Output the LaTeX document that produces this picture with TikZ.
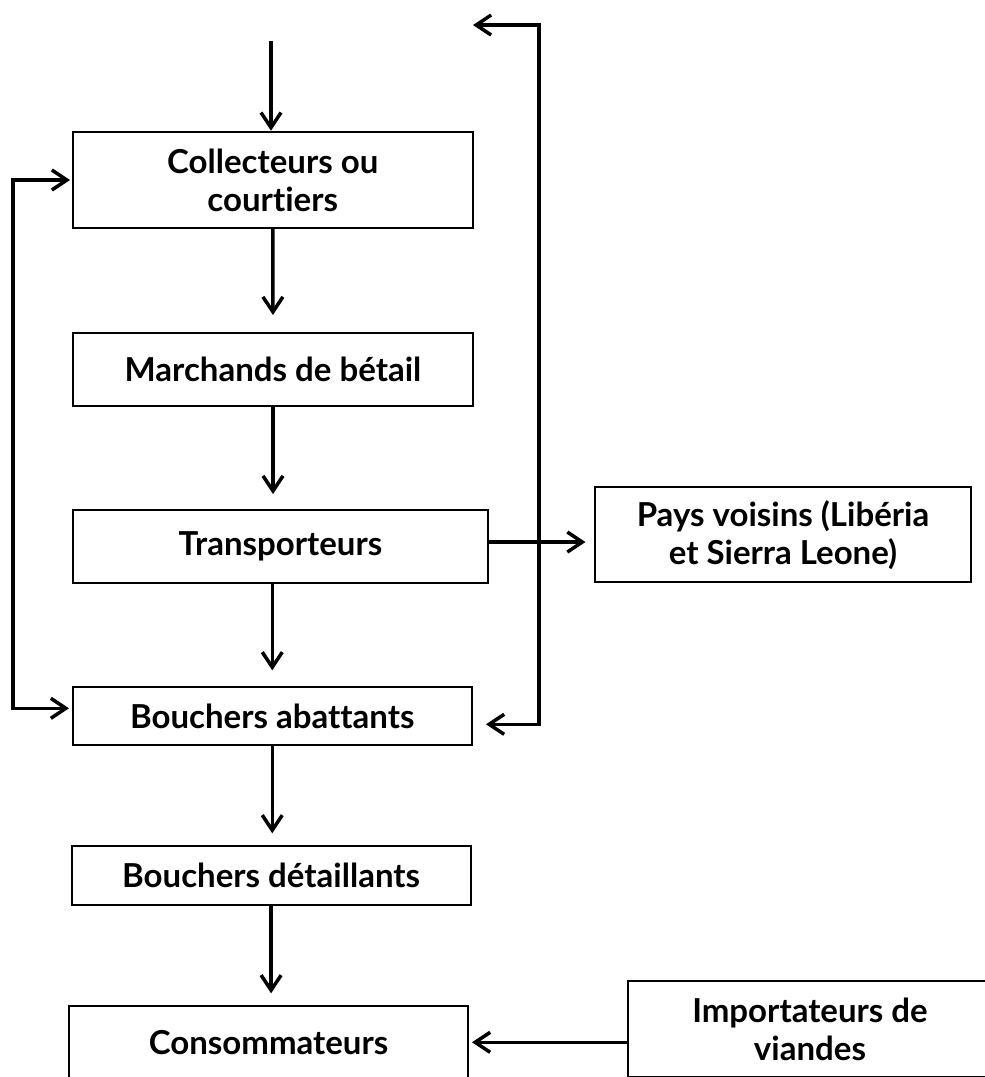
\documentclass[tikz,border=0pt]{standalone}
\usepackage{fontspec}
\setmainfont{Lato}[Ligatures=NoCommon]
\usetikzlibrary{positioning,arrows.meta}

\begin{document}
\begin{tikzpicture}[x=1pt, y=-1pt, node distance=104pt,
                    main node/.style={rectangle,draw,line width=2pt,align=center,inner sep=0pt,outer sep=0pt,
                                      font=\fontsize{33}{38}\selectfont\bfseries},
                    arr/.style={-{Straight Barb[length=15pt,width=20pt]},line width=3.5pt}]

  \clip (0,0) rectangle (985,1077);

  \node[main node,minimum width=399.5pt,minimum height=96pt] (coll) at (272.75,180) {Collecteurs ou\\courtiers};
  \node[main node,minimum width=400pt,minimum height=73pt] (march) [below=105pt of coll.south west,anchor=north west] {Marchands de bétail};
    \node[main node,minimum width=415pt,minimum height=73.3pt] (trans) [below=of march.south west,anchor=north west] {Transporteurs};
      \node[main node,minimum width=376pt,minimum height=95pt] (pays) [right=107pt of trans,yshift=11.8pt] {Pays voisins (Libéria\\et Sierra Leone)};
      \node[main node,minimum width=398.5pt,minimum height=58pt] (abat) [below=of trans.south west,anchor=north west] {Bouchers abattants};
        \node[main node,minimum width=399pt,minimum height=58.5pt] (det) [below=101pt of abat.south west,anchor=north west,xshift=-1.4pt] {Bouchers détaillants};
          \node[main node,minimum width=399pt,minimum height=72pt] (cons) [below=101.5pt of det.south west,anchor=north west,xshift=-2.6pt] {Consommateurs};
          \node[main node,minimum width=364pt,minimum height=96pt] (imp) [right=160pt of cons,yshift=13pt] {Importateurs de\\viandes};

  \coordinate (entree) at (271,40.7);
  \coordinate (retour) at (473,25);

\path[arr]
    (entree) edge [shorten >=1.3pt] (entree |- coll.north)
    (coll.south) edge [shorten >=18pt] (march.north)
    (march.south) edge [shorten >=16pt] (march.south |- trans.north)
    (trans.south -| abat.north) edge [shorten >=17pt] (abat.north)
    (abat.south) edge [shorten >=13pt] (abat.south |- det.north)
    (det.south) edge [shorten >=13pt] (det.south |- cons.north)
    ([yshift=4.6pt]trans.east) edge [shorten >=9.5pt] ([yshift=4.6pt]trans.east -| pays.west)
    (imp.west |- cons.east) edge [shorten >=4pt] (cons.east);

  \draw[arr,{Straight Barb[length=15pt,width=20pt]}-{Straight Barb[length=15pt,width=20pt]},shorten <=3pt,shorten >=4pt]
    (coll.west) -- ++(-60,0) |- ([yshift=8pt]abat.west);
  \draw[arr,{Straight Barb[length=15pt,width=20pt]}-{Straight Barb[length=15pt,width=20pt]},shorten >=14.5pt]
    (retour) -- ++(66,0) |- ([yshift=-8pt]abat.east);

\end{tikzpicture}
\end{document}
